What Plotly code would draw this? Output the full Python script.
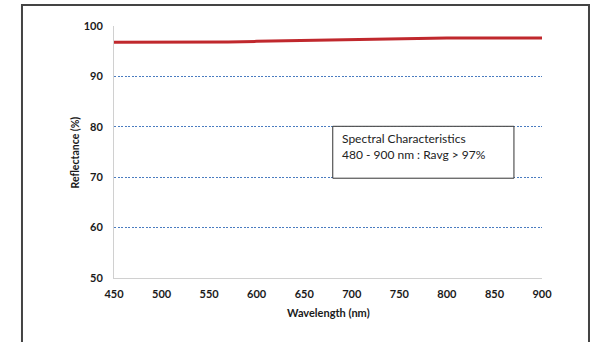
import plotly.graph_objects as go

# Reflectance curve
wavelength = [450, 500, 550, 570, 600, 650, 700, 750, 800, 850, 900]
reflectance = [96.8, 96.8, 96.8, 96.85, 96.95, 97.1, 97.3, 97.45, 97.6, 97.6, 97.6]

x_ticks = [450, 500, 550, 600, 650, 700, 750, 800, 850, 900]
y_ticks = [50, 60, 70, 80, 90, 100]

note_text = "Spectral Characteristics<br>480 - 900 nm : Ravg > 97%"

tick_font = dict(family="Lato", size=11, color="#1a1a1a", weight="bold")

fig = go.Figure()
fig.add_trace(go.Scatter(
    x=wavelength, y=reflectance, mode="lines",
    line=dict(color="#c0282d", width=3),
    showlegend=False, hoverinfo="skip",
))

fig.update_xaxes(
    range=[450, 900], tickvals=x_ticks, tickfont=tick_font,
    showgrid=False, zeroline=False,
    showline=True, linecolor="#d0d0d0", linewidth=1,
    ticks="", ticklabelstandoff=6,
)
fig.update_yaxes(
    range=[50, 100], tickvals=y_ticks, tickfont=tick_font,
    showgrid=True, gridcolor="#4a7cc0", griddash="2px,1.5px", gridwidth=1.2,
    zeroline=False,
    showline=True, linecolor="#d0d0d0", linewidth=1,
    ticks="", ticklabelstandoff=8,
)

# outer frame
fig.add_shape(type="rect", xref="paper", yref="paper",
              x0=-0.215, x1=1.1098, y0=-0.3, y1=1.0833,
              line=dict(color="#444444", width=2), fillcolor="rgba(0,0,0,0)")

# note box
fig.add_shape(type="rect", xref="x", yref="y",
              x0=680, x1=870.5, y0=69.8, y1=80.1,
              line=dict(color="#333333", width=1), fillcolor="white")
fig.add_annotation(x=688, y=79.6, xref="x", yref="y", text=note_text,
                   showarrow=False, xanchor="left", yanchor="top", align="left",
                   font=dict(family="Lato", size=12, color="#222222"))

# axis titles
fig.add_annotation(x=-0.09, y=0.5, xref="paper", yref="paper",
                   text="Reflectance (%)", textangle=-90, showarrow=False,
                   xanchor="center", yanchor="middle",
                   font=dict(family="Lato", size=10.5, color="#1a1a1a", weight="bold"))
fig.add_annotation(x=0.5, y=-0.135, xref="paper", yref="paper",
                   text="Wavelength (nm)", showarrow=False,
                   xanchor="center", yanchor="middle",
                   font=dict(family="Lato", size=11, color="#1a1a1a", weight="bold"))

fig.update_layout(
    width=599, height=342,
    margin=dict(l=114, r=57, t=26, b=64),
    paper_bgcolor="white", plot_bgcolor="white",
)
fig.write_html("out.html", config={"displayModeBar": False},
               post_script="document.body.style.margin='0';document.body.style.overflow='hidden';")
